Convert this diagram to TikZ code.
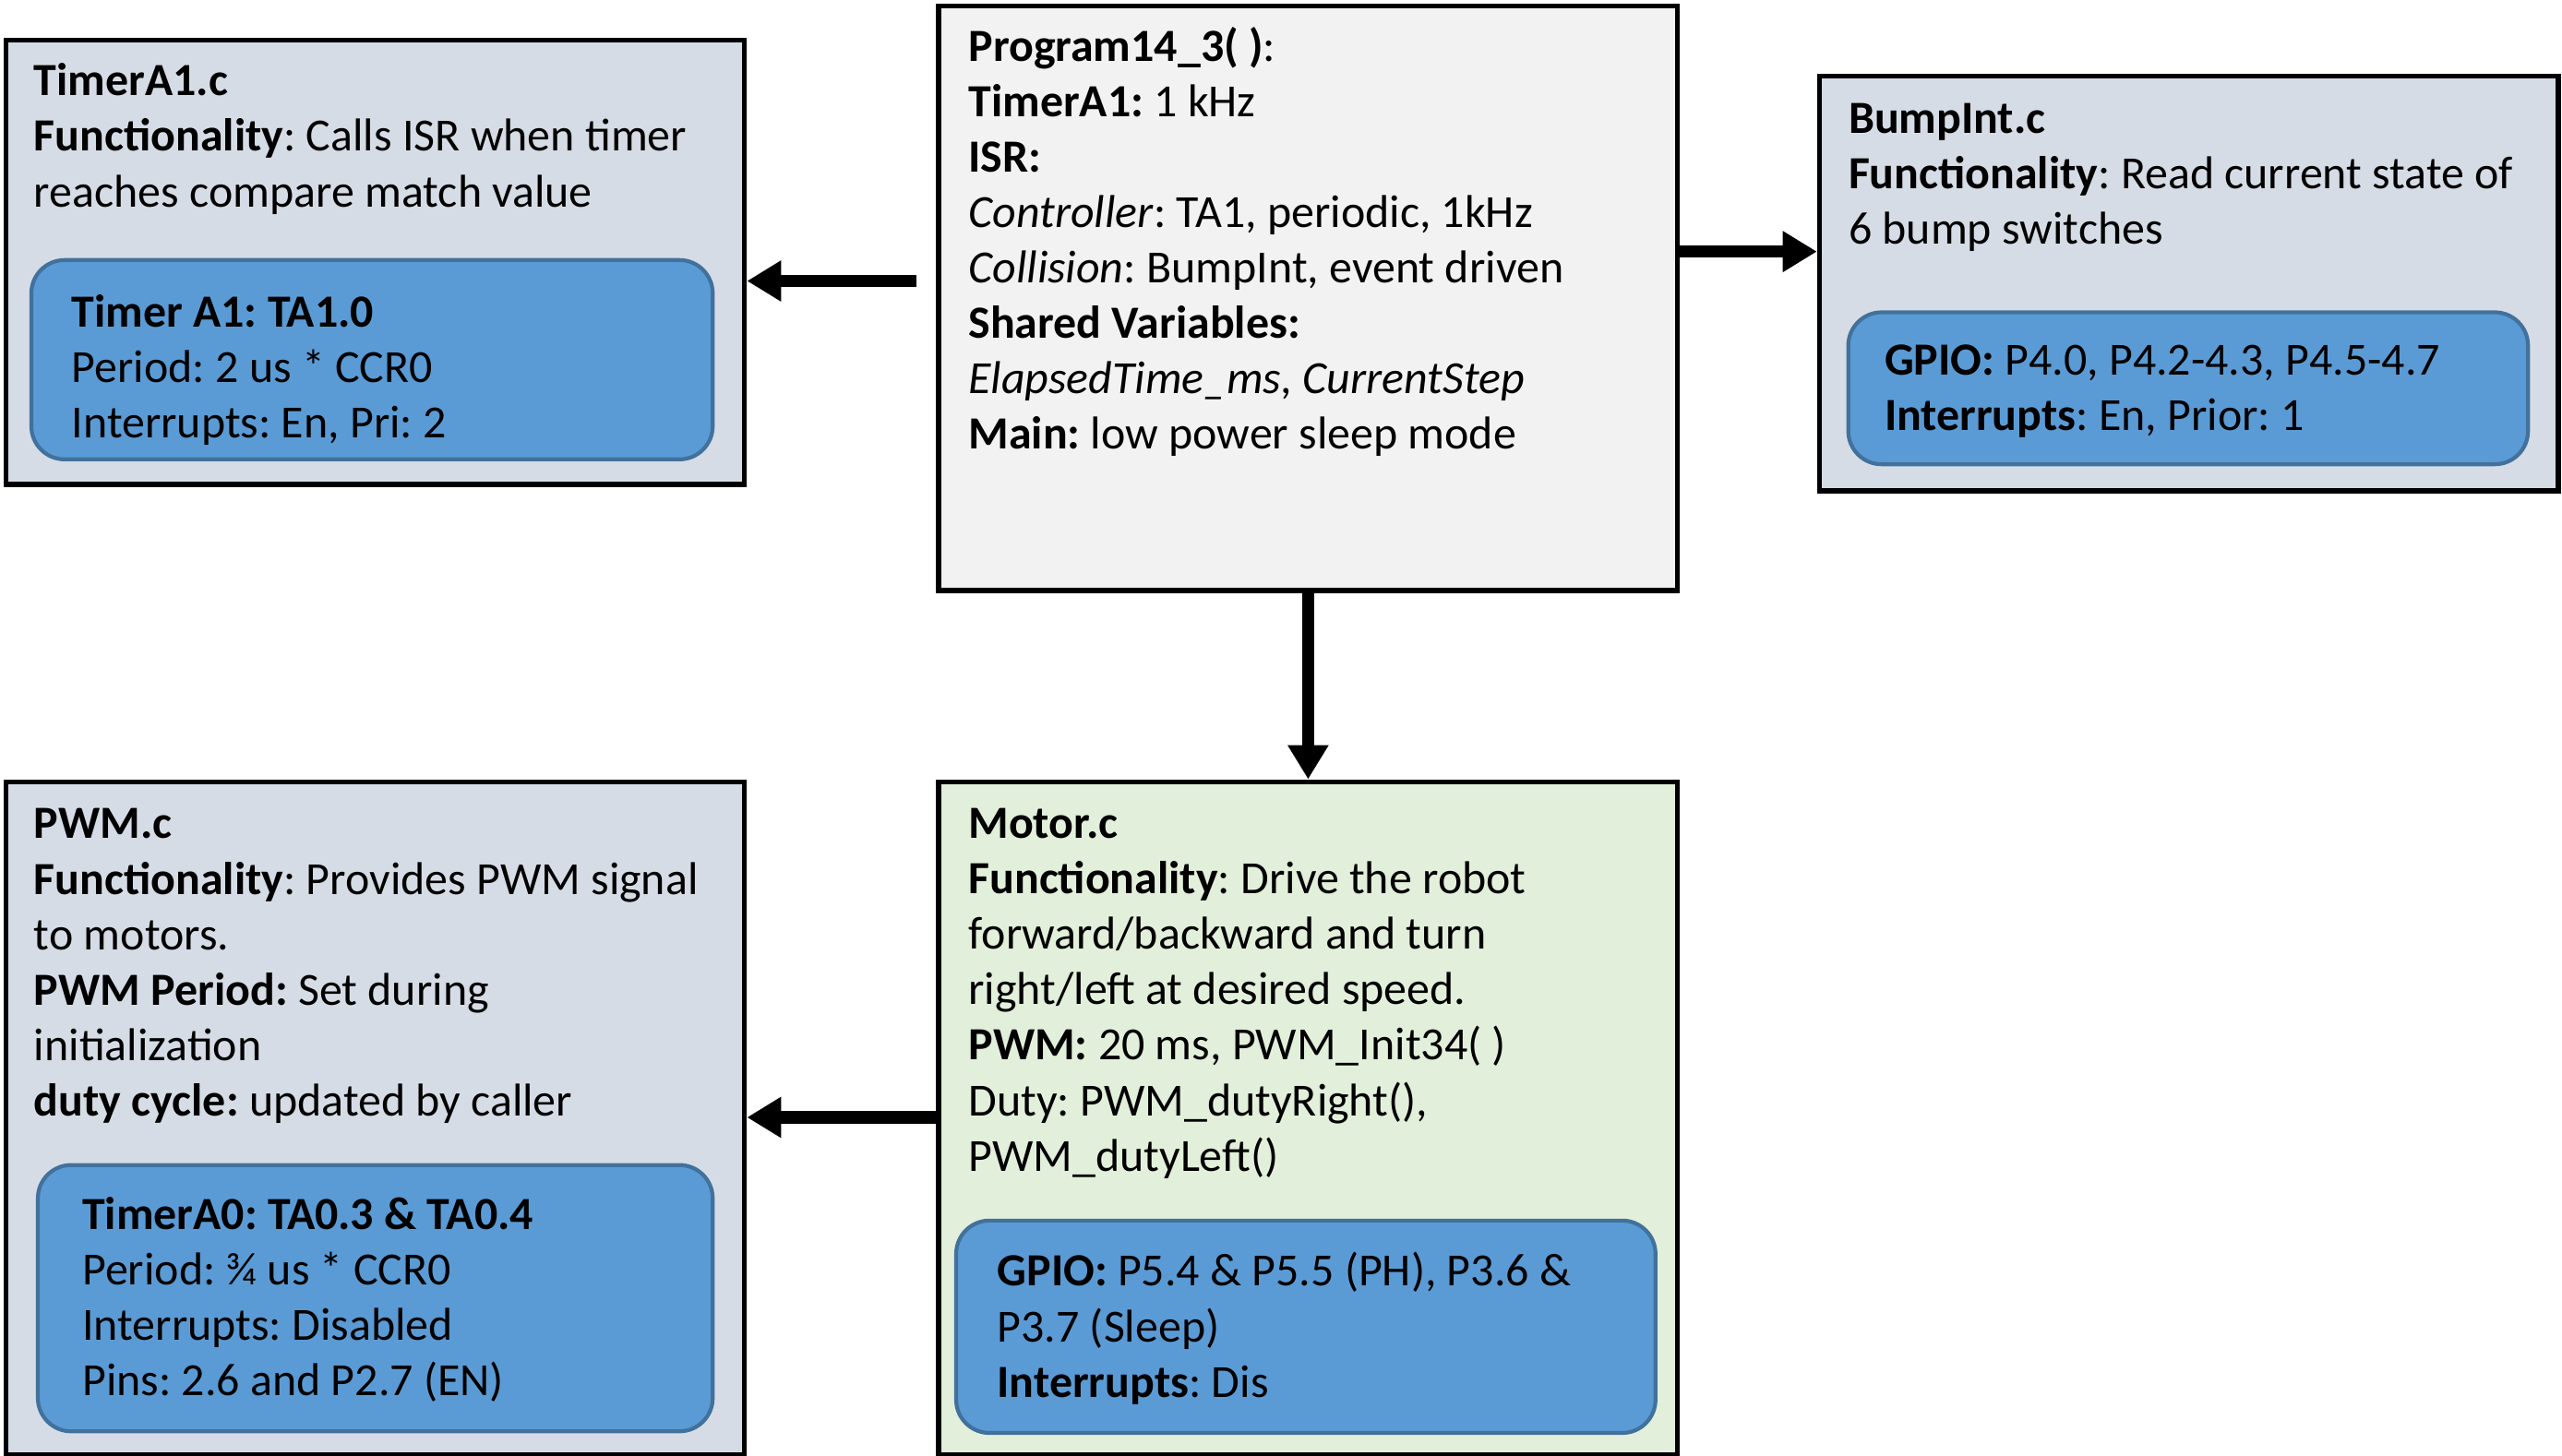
\documentclass[tikz,border=0pt]{standalone}
\usepackage{fontspec}
\setmainfont{Carlito}
\frenchspacing
\usetikzlibrary{arrows.meta}
\definecolor{boxgray}{HTML}{D6DCE5}
\definecolor{boxlight}{HTML}{F2F2F2}
\definecolor{boxgreen}{HTML}{E2EFDA}
\definecolor{innerfill}{HTML}{5B9BD5}
\definecolor{innerline}{HTML}{41719C}

\begin{document}
\begin{tikzpicture}[x=0.017704cm, y=-0.017704cm,
    dims/.style 2 args = {minimum width=#1*0.017704cm, minimum height=#2*0.017704cm},
    outer/.style = {draw, line width=1.6pt, anchor=north west, inner sep=0pt},
    inner/.style = {draw=innerline, fill=innerfill, line width=1.2pt, rounded corners=0.36cm, anchor=north west, inner sep=0pt},
    txt/.style = {anchor=north west, inner sep=0pt, align=left, font=\fontsize{14.2}{17.1}\selectfont},
    arr/.style = {-{Triangle[width=0.42cm,length=0.37cm]}, line width=3.8pt}]
    \useasboundingbox (0,0) rectangle (1568,891);
    % boxes
    \node[outer, fill=boxgray, dims={452}{272}] (tmr) at (2,23) {};
    \node[outer, fill=boxlight, dims={452}{358}] (prog) at (573,2) {};
    \node[outer, fill=boxgray, dims={452}{254}] (bump) at (1112,45) {};
    \node[outer, fill=boxgray, dims={452}{412}] (pwm) at (2,477) {};
    \node[outer, fill=boxgreen, dims={452}{412}] (mot) at (573,477) {};
    \node[inner, dims={417}{122}] (tmrhw) at (18,158) {};
    \node[inner, dims={416}{93}] (bumphw) at (1130,190) {};
    \node[inner, dims={413}{163}] (pwmhw) at (22,712) {};
    \node[inner, dims={428}{130}] (mothw) at (584,746) {};
    % texts
    \node[txt] (tmrtxt) at (20.5,34.5) {\strut\textbf{TimerA1.c}\\
        \textbf{Functionality}: Calls ISR when timer\\
        reaches compare match value};
    \node[txt] (tmrhwtxt) at (43.5,176.2) {\strut\textbf{Timer A1: TA1.0}\\
        Period: 2 us * CCR0\\
        Interrupts: En, Pri: 2};
    \node[txt] (progtxt) at (592.4,13.2) {\strut\textbf{Program14\_3( )}:\\
        \textbf{TimerA1:} 1 kHz\\
        \textbf{ISR:}\\
        \textit{Controller}: TA1, periodic, 1kHz\\
        \textit{Collision}: BumpInt, event driven\\
        \textbf{Shared Variables:}\\
        \textit{ElapsedTime\_ms, CurrentStep}\\
        \textbf{Main:} low power sleep mode};
    \node[txt] (bumptxt) at (1131,57.2) {\strut\textbf{BumpInt.c}\\
        \textbf{Functionality}: Read current state of\\
        6 bump switches};
    \node[txt] (bumphwtxt) at (1153,205.2) {\strut\textbf{GPIO:} P4.0, P4.2-4.3, P4.5-4.7\\
        \textbf{Interrupts}: En, Prior: 1};
    \node[txt] (pwmtxt) at (20.5,489.2) {\strut\textbf{PWM.c}\\
        \textbf{Functionality}: Provides PWM signal\\
        to motors.\\
        \textbf{PWM Period:} Set during\\
        initialization\\
        \textbf{duty cycle:} updated by caller};
    \node[txt] (pwmhwtxt) at (50,728.2) {\strut\textbf{TimerA0: TA0.3 \& TA0.4}\\
        Period: ¾ us * CCR0\\
        Interrupts: Disabled\\
        Pins: 2.6 and P2.7 (EN)};
    \node[txt] (mottxt) at (592.4,489) {\strut\textbf{Motor.c}\\
        \textbf{Functionality}: Drive the robot\\
        forward/backward and turn\\
        right/left at desired speed.\\
        \textbf{PWM:} 20 ms, PWM\_Init34( )\\
        Duty: PWM\_dutyRight(),\\
        PWM\_dutyLeft()};
    \node[txt] (mothwtxt) at (610,763.2) {\strut\textbf{GPIO:} P5.4 \& P5.5 (PH), P3.6 \&\\
        P3.7 (Sleep)\\
        \textbf{Interrupts}: Dis};
    % arrows
    \coordinate (tmrtail) at (561,172);
    \draw[arr] (tmrtail) -- (tmrtail -| tmr.east);
    \draw[arr] (prog.east |- 0,154) -- (bump.west |- 0,154);
    \draw[arr] (prog.south) -- (mot.north);
    \draw[arr] (mot.west |- 0,684) -- (pwm.east |- 0,684);
\end{tikzpicture}
\end{document}
